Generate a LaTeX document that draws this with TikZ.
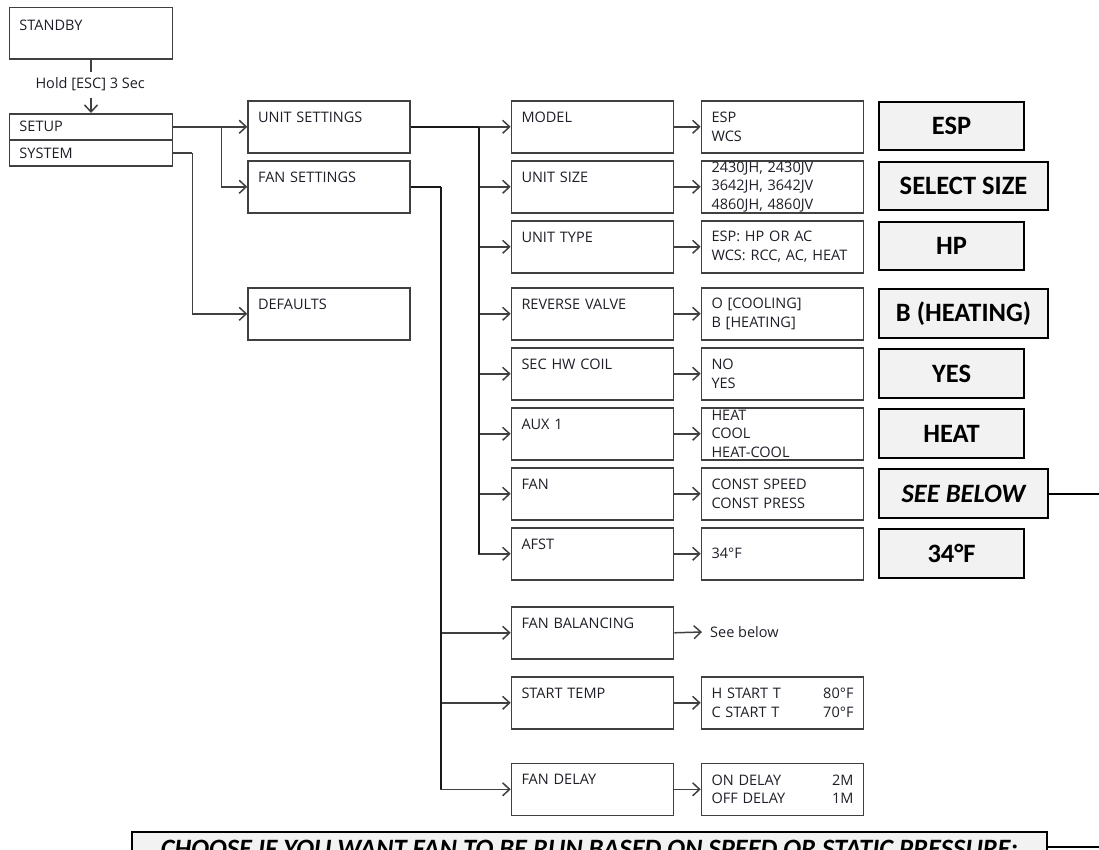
\documentclass[tikz,border=0pt]{standalone}
\usepackage{fontspec}
\setmainfont{Open Sans}
\newfontfamily\calib{Carlito}
\usetikzlibrary{arrows.meta,calc}
\definecolor{bordergray}{HTML}{404040}
\definecolor{txt}{HTML}{1E1E28}
\definecolor{resfill}{HTML}{F2F2F2}
\newcommand\mysmall{\fontsize{14.5}{18.5}\selectfont}
\newcommand\myres{\calib\bfseries\fontsize{26.5}{30}\selectfont}
\tikzset{
  sbox/.style={draw=bordergray, line width=1.6pt, inner sep=0pt, anchor=north west,
    minimum width=162pt, text width=142pt, align=left, text=txt, font=\mysmall},
  midbox/.style={sbox, minimum height=52pt, text height=21.5pt, text depth=30.5pt},
  optbox/.style={sbox, minimum height=52pt},
  resbox/.style={draw=black, line width=2pt, fill=resfill, inner sep=0pt, anchor=west,
    minimum height=48.5pt, font=\myres},
  conn/.style={draw=bordergray, line width=1.5pt},
  trunk/.style={draw=black!90, line width=2pt},
  arr/.style={conn, -{Straight Barb[length=7pt, width=13pt]}},
}
\begin{document}
\begin{tikzpicture}[x=1pt,y=-1pt]
\useasboundingbox (0,0) rectangle (1099,850);
\clip (0,0) rectangle (1099,850);

% left column
\node[sbox, minimum width=163pt, text width=143pt, minimum height=51.5pt,
      text height=22.6pt, text depth=28.9pt] (standby) at (8.7,6.7) {STANDBY};
\node[text=txt, font=\mysmall, anchor=base, inner xsep=1pt, inner ysep=6pt,
      text height=11pt, text depth=3pt] (hold) at (90.2,89) {Hold [ESC] 3 Sec};
\node[sbox, minimum width=163pt, text width=143pt, minimum height=26pt,
      text height=18pt, text depth=8pt] (setup) at (8.7,113) {SETUP};
\node[sbox, minimum width=163pt, text width=143pt, minimum height=26pt,
      text height=19pt, text depth=7pt] (system) at (8.7,139) {SYSTEM};

% second column
\node[midbox] (unitset) at (247.3,100) {UNIT SETTINGS};
\node[midbox] (fanset) at (247.3,160) {FAN SETTINGS};
\node[midbox] (defaults) at (247.3,287) {DEFAULTS};

% third column
\node[midbox] (model) at (510.7,100) {MODEL};
\node[midbox] (size) at (510.7,160) {UNIT SIZE};
\node[midbox] (type) at (510.7,220) {UNIT TYPE};
\node[midbox] (rv) at (510.7,287) {REVERSE VALVE};
\node[midbox] (hw) at (510.7,347) {SEC HW COIL};
\node[midbox] (aux) at (510.7,407) {AUX 1};
\node[midbox] (fan) at (510.7,467) {FAN};
\node[midbox] (afst) at (510.7,527) {AFST};
\node[midbox] (fanbal) at (510.7,606) {FAN BALANCING};
\node[midbox] (stemp) at (510.7,676) {START TEMP};
\node[midbox] (fdelay) at (510.7,762.5) {FAN DELAY};

% option column
\node[optbox] (omodel) at (700.7,100) {ESP\\WCS};
\node[optbox] (osize) at (700.7,160) {2430JH, 2430JV\\3642JH, 3642JV\\4860JH, 4860JV};
\node[optbox] (otype) at (700.7,220) {ESP: HP OR AC\\WCS: RCC, AC, HEAT};
\node[optbox] (orv) at (700.7,287) {O [COOLING]\\B [HEATING]};
\node[optbox] (ohw) at (700.7,347) {NO\\YES};
\node[optbox] (oaux) at (700.7,407) {HEAT\\COOL\\HEAT-COOL};
\node[optbox] (ofan) at (700.7,467) {CONST SPEED\\CONST PRESS};
\node[optbox] (oafst) at (700.7,527) {34°F};
\node[text=txt, font=\mysmall, anchor=west, inner xsep=8pt, inner ysep=2pt] (seebelow) at (702,632) {See below};
\node[optbox] (ostemp) at (700.7,676) {H START T\hfill 80°F\\C START T\hfill 70°F};
\node[optbox] (ofdelay) at (700.7,762.5) {ON DELAY\hfill 2M\\OFF DELAY\hfill 1M};

% result column
\node[resbox, minimum width=144.5pt] (rmodel) at (878.3,126) {ESP};
\node[resbox, minimum width=168.5pt] (rsize) at (878.3,186) {SELECT SIZE};
\node[resbox, minimum width=144.5pt] (rtype) at (878.3,246) {HP};
\node[resbox, minimum width=168.5pt] (rrv) at (878.3,313.5) {B (HEATING)};
\node[resbox, minimum width=144.5pt] (rhw) at (878.3,373.5) {YES};
\node[resbox, minimum width=144.5pt] (raux) at (878.3,433.5) {HEAT};
\node[resbox, minimum width=168.5pt] (rfan) at (878.3,493.5) {\itshape SEE BELOW};
\node[resbox, minimum width=144.5pt] (rafst) at (878.3,553.5) {34°F};

% bottom banner (cut by the lower edge, as in the reference)
\node[draw=black, line width=2pt, fill=resfill, anchor=north west, inner sep=0pt,
      minimum width=915pt, text height=25pt, text depth=23pt, font=\myres\itshape]
      (choose) at (131,831) {CHOOSE IF YOU WANT FAN TO BE RUN BASED ON SPEED OR STATIC PRESSURE:};

\coordinate (edge1) at (1099,493.5);
\coordinate (edge2) at (1099,847.3);
\draw[conn, draw=black, line width=2pt] (rfan.east) -- (edge1);
\draw[conn, draw=black, line width=2pt] ($(choose.north east)+(0,16.3)$) -- (edge2);

% connectors
\draw[conn] (standby.south) -- (standby.south |- hold.north);
\draw[arr] (hold.south -| setup.north) -- (setup.north);
\draw[arr] (setup.east) -- (unitset.west);
\draw[arr] (setup.east) -- ++(48,0) |- (fanset.west);
\draw[conn] (system.east) -- ++(19,0) coordinate (j2);
\draw[arr] (j2) |- (defaults.west);

\draw[trunk] (unitset.east) -- ++(68,0) coordinate (us);
\draw[arr] (us) -- (model.west);
\foreach \n in {size,type,rv,hw,aux,fan,afst}{
  \draw[arr] (us) |- (\n.west);
}
\draw[trunk] (us) -- (us |- afst.west);
\draw[trunk] (fanset.east) -- ++(30,0) coordinate (fs);
\foreach \n in {fanbal,stemp,fdelay}{
  \draw[arr] (fs) |- (\n.west);
}
\draw[trunk] (fs) -- (fs |- fdelay.west);

\foreach \a/\b in {model/omodel,size/osize,type/otype,rv/orv,hw/ohw,aux/oaux,fan/ofan,afst/oafst,stemp/ostemp,fdelay/ofdelay}{
  \draw[arr] (\a.east) -- (\b.west);
}
\draw[arr] (fanbal.east) -- (seebelow.west);
\end{tikzpicture}
\end{document}
